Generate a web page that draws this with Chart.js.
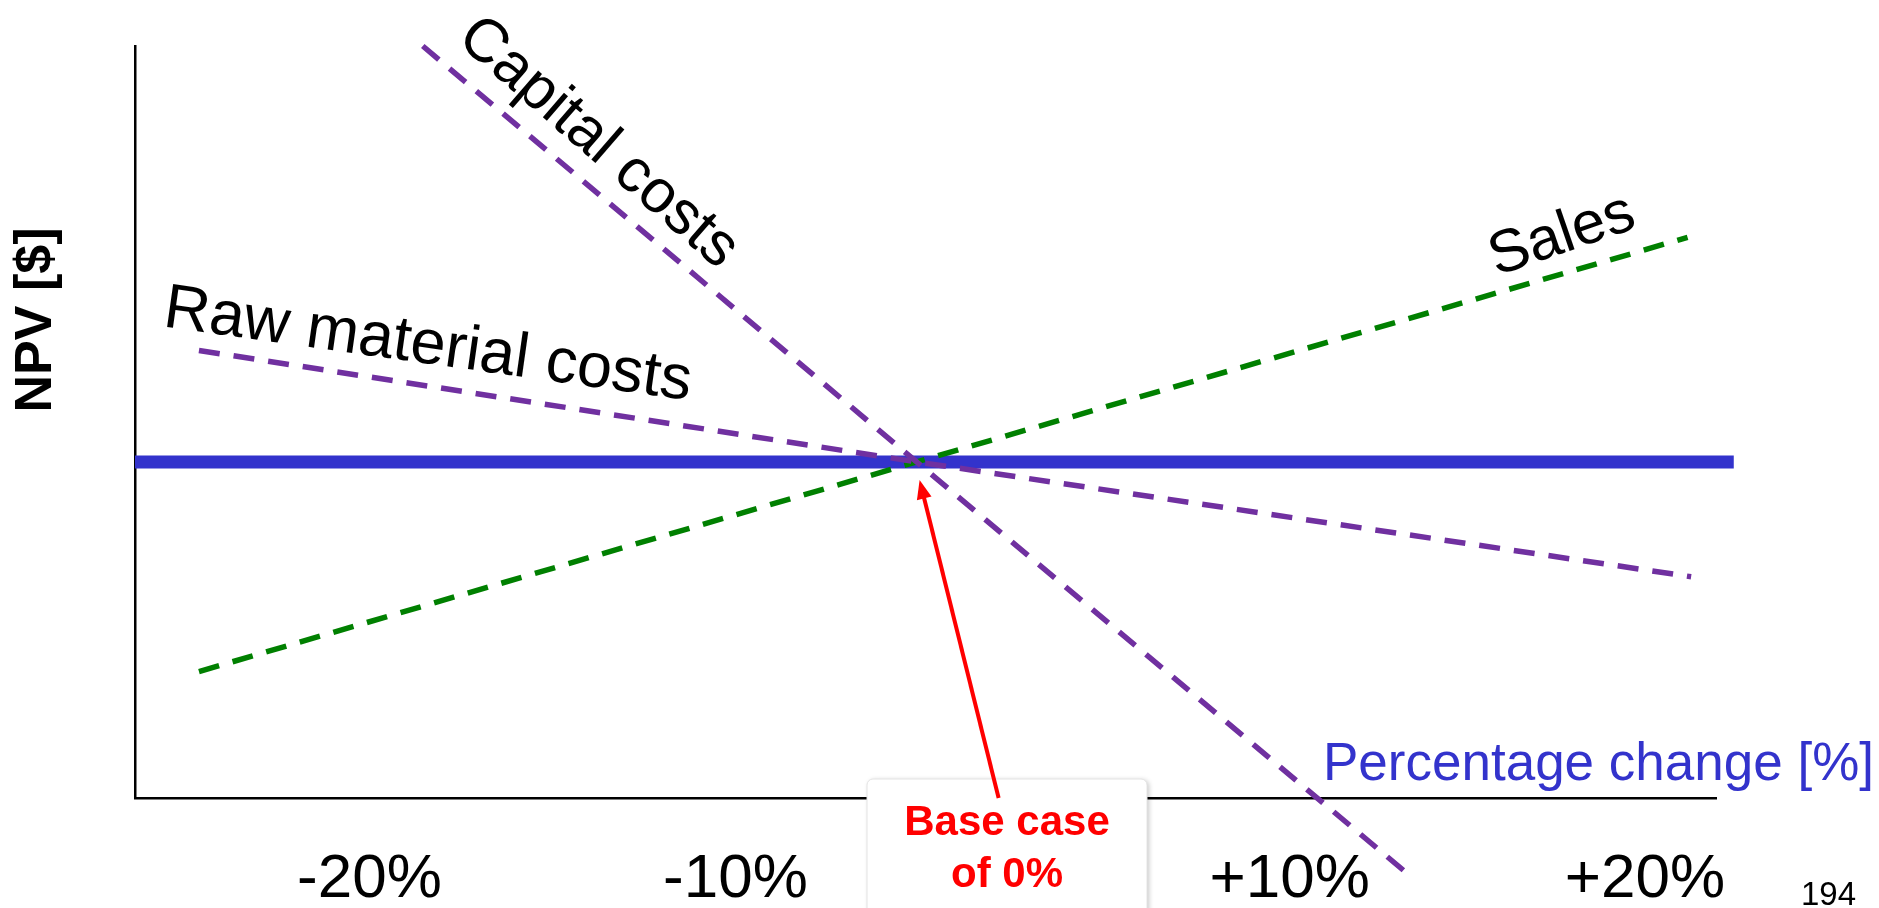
<!DOCTYPE html>
<html>
<head>
<meta charset="utf-8">
<title>NPV sensitivity</title>
<script src="https://cdn.jsdelivr.net/npm/chart.js@4.4.1/dist/chart.umd.min.js"></script>
<style>
  html, body { margin: 0; padding: 0; background: #ffffff; }
  #wrap { width: 1879px; height: 908px; position: relative; }
</style>
</head>
<body>
<div id="wrap"><canvas id="npv"></canvas></div>
<script>
// Percentage change on the x axis, NPV (arbitrary units, base case = 0) on the y axis
const salesPct = [-20.2, 0, 21.7];
const salesNpv = [-12.6, 0, 13.5];

const rawPct = [-20.2, 0, 21.8];
const rawNpv = [6.7, 0, -6.9];

const capitalPct = [-13.9, 0, 13.9];
const capitalNpv = [25.0, 0, -24.9];

const basePct = [-22, 23];
const baseNpv = [0, 0];

// x-axis tick labels and where they sit along the axis
const tickLabels = ['-20%', '-10%', '+10%', '+20%'];
const tickPositions = [-15.4, -5.1, 10.5, 20.5];

const FONT = '"Liberation Sans", Arial, Helvetica, sans-serif';
const PURPLE = '#7030A0';
const GREEN = '#008000';
const BLUE = '#3333CC';
const RED = '#FF0000';

const toPoints = (xs, ys) => xs.map((x, i) => ({ x: x, y: ys[i] }));

// Slide annotations: line names, axis captions, arrow and the base-case callout
const annotations = {
  id: 'annotations',
  afterDatasetsDraw(chart) {
    const ctx = chart.ctx;
    const ca = chart.chartArea;
    const xs = chart.scales.x;
    const ys = chart.scales.y;
    const x0 = xs.getPixelForValue(0);
    const y0 = ys.getPixelForValue(0);

    function rotatedText(text, cx, cy, deg, font, color) {
      ctx.save();
      ctx.translate(cx, cy);
      ctx.rotate(deg * Math.PI / 180);
      ctx.font = font;
      ctx.fillStyle = color;
      ctx.textAlign = 'center';
      ctx.textBaseline = 'middle';
      ctx.fillText(text, 0, 0);
      ctx.restore();
    }

    rotatedText('Capital costs', 598, 143, 41, '61px ' + FONT, '#000000');
    rotatedText('Raw material costs', 428, 346, 8, '63px ' + FONT, '#000000');
    rotatedText('Sales', 1562, 236, -19, '60px ' + FONT, '#000000');
    rotatedText('NPV [$]', 37, 320, -90, 'bold 52px ' + FONT, '#000000');

    ctx.save();
    ctx.font = '53px ' + FONT;
    ctx.fillStyle = BLUE;
    ctx.textAlign = 'left';
    ctx.textBaseline = 'alphabetic';
    ctx.fillText('Percentage change [%]', 1323, 780);
    ctx.font = '33px ' + FONT;
    ctx.fillStyle = '#000000';
    ctx.fillText('194', 1801, 905);
    ctx.restore();

    // callout box for the base case
    const bx = 867, by = 779, bw = 280, bh = 160, r = 6;
    ctx.save();
    ctx.shadowColor = 'rgba(0,0,0,0.22)';
    ctx.shadowBlur = 5;
    ctx.shadowOffsetX = 2;
    ctx.shadowOffsetY = 1;
    ctx.beginPath();
    ctx.moveTo(bx + r, by);
    ctx.lineTo(bx + bw - r, by);
    ctx.arcTo(bx + bw, by, bx + bw, by + r, r);
    ctx.lineTo(bx + bw, by + bh);
    ctx.lineTo(bx, by + bh);
    ctx.lineTo(bx, by + r);
    ctx.arcTo(bx, by, bx + r, by, r);
    ctx.closePath();
    ctx.fillStyle = '#ffffff';
    ctx.fill();
    ctx.shadowColor = 'transparent';
    ctx.strokeStyle = '#e4e4e4';
    ctx.lineWidth = 1;
    ctx.stroke();
    ctx.restore();

    // arrow from the callout to the base-case crossing
    const tipX = x0 + 3, tipY = y0 + 18;
    const tailX = x0 + 82, tailY = ca.bottom;
    const ang = Math.atan2(tipY - tailY, tipX - tailX);
    const headLen = 19, headHalf = 7.5;
    ctx.save();
    ctx.strokeStyle = RED;
    ctx.fillStyle = RED;
    ctx.lineWidth = 4;
    ctx.beginPath();
    ctx.moveTo(tailX, tailY);
    ctx.lineTo(tipX - Math.cos(ang) * (headLen - 2), tipY - Math.sin(ang) * (headLen - 2));
    ctx.stroke();
    ctx.beginPath();
    ctx.moveTo(tipX, tipY);
    const bxh = tipX - Math.cos(ang) * headLen, byh = tipY - Math.sin(ang) * headLen;
    ctx.lineTo(bxh + Math.sin(ang) * headHalf, byh - Math.cos(ang) * headHalf);
    ctx.lineTo(bxh - Math.sin(ang) * headHalf, byh + Math.cos(ang) * headHalf);
    ctx.closePath();
    ctx.fill();

    ctx.font = 'bold 42px ' + FONT;
    ctx.textAlign = 'center';
    ctx.textBaseline = 'alphabetic';
    ctx.fillText('Base case', 1007, 835);
    ctx.fillText('of 0%', 1007, 887);
    ctx.restore();
  }
};

new Chart(document.getElementById('npv'), {
  type: 'line',
  data: {
    datasets: [
      {
        label: 'Capital costs',
        data: toPoints(capitalPct, capitalNpv),
        borderColor: PURPLE,
        borderWidth: 5.5,
        borderDash: [21, 14],
        pointRadius: 0,
        clip: false,
        order: 1
      },
      {
        label: 'Raw material costs',
        data: toPoints(rawPct, rawNpv),
        borderColor: PURPLE,
        borderWidth: 5.5,
        borderDash: [21, 14],
        pointRadius: 0,
        clip: false,
        order: 2
      },
      {
        label: 'Sales',
        data: toPoints(salesPct, salesNpv),
        borderColor: GREEN,
        borderWidth: 5.5,
        borderDash: [21, 14],
        pointRadius: 0,
        clip: false,
        order: 3
      },
      {
        label: 'Base case',
        data: toPoints(basePct, baseNpv),
        borderColor: BLUE,
        borderWidth: 13,
        pointRadius: 0,
        clip: false,
        order: 4
      }
    ]
  },
  options: {
    responsive: true,
    maintainAspectRatio: false,
    animation: false,
    events: [],
    layout: { padding: { top: 46, right: 163, bottom: 0, left: 0 } },
    plugins: {
      legend: { display: false },
      tooltip: { enabled: false },
      title: { display: false }
    },
    scales: {
      x: {
        type: 'linear',
        min: -22,
        max: 22.5,
        bounds: 'data',
        grid: { display: false, drawTicks: false },
        border: { display: true, color: '#000000', width: 2.5 },
        afterBuildTicks(scale) {
          scale.ticks = tickPositions.map(v => ({ value: v }));
        },
        afterFit(scale) { scale.height = 110; },
        ticks: {
          autoSkip: false,
          maxRotation: 0,
          minRotation: 0,
          padding: 45,
          color: '#000000',
          font: { family: FONT, size: 62 },
          callback: (value, index) => tickLabels[index]
        }
      },
      y: {
        type: 'linear',
        min: -20.2,
        max: 25,
        grid: { display: false, drawTicks: false },
        border: { display: true, color: '#000000', width: 2.5 },
        ticks: { display: false },
        afterFit(scale) { scale.width = 135; }
      }
    }
  },
  plugins: [annotations]
});
</script>
</body>
</html>
